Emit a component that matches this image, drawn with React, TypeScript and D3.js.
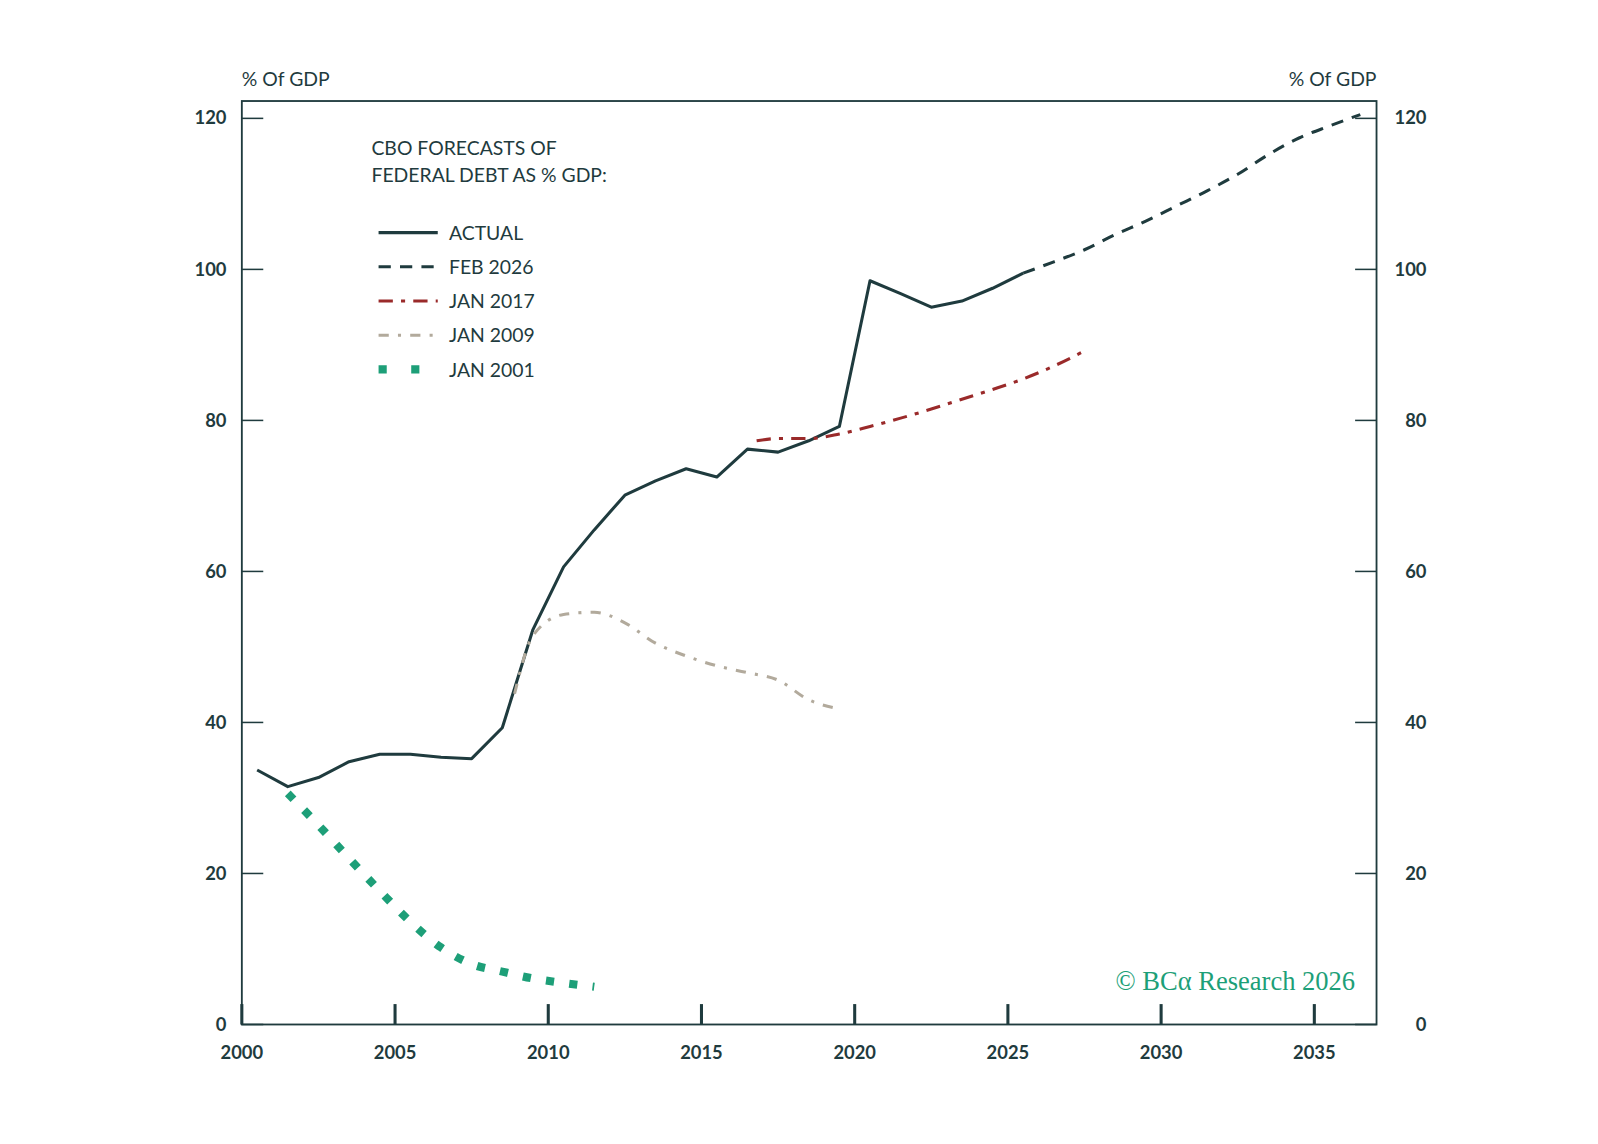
import React from 'react';
import * as d3 from 'd3';

type P = [number, number];

const actual: P[] = [
  [2000.5, 33.7], [2001.5, 31.5], [2002.5, 32.7], [2003.5, 34.8], [2004.5, 35.8], [2005.5, 35.8],
  [2006.5, 35.4], [2007.5, 35.2], [2008.5, 39.3], [2009.5, 52.3], [2010.5, 60.6], [2011.5, 65.5],
  [2012.5, 70.1], [2013.5, 72], [2014.5, 73.6], [2015.5, 72.5], [2016.5, 76.2], [2017.5, 75.8],
  [2018.5, 77.3], [2019.5, 79.2], [2020.5, 98.5], [2021.5, 96.8], [2022.5, 95.0], [2023.5, 95.8],
  [2024.5, 97.5], [2025.5, 99.5],
];
const feb2026: P[] = [
  [2025.5, 99.5], [2026.5, 101], [2027.5, 102.6], [2028.5, 104.6], [2029.5, 106.4], [2030.5, 108.4],
  [2031.5, 110.4], [2032.5, 112.6], [2033.5, 115.2], [2034.5, 117.4], [2035.5, 119], [2036.5, 120.5],
];
const jan2017: P[] = [
  [2016.8, 77.3], [2017.5, 77.6], [2018.5, 77.6], [2019.5, 78.2], [2020.5, 79.2], [2021.5, 80.3],
  [2022.5, 81.5], [2023.5, 82.8], [2024.5, 84.1], [2025.5, 85.5], [2026.5, 87.2], [2027.5, 89.2],
];
const jan2009: P[] = [
  [2008.9, 43.8], [2009.5, 51.5], [2010.5, 54.3], [2011.5, 54.6], [2012.5, 53.2], [2013.5, 50.5],
  [2014.5, 48.8], [2015.5, 47.5], [2016.5, 46.6], [2017.5, 45.6], [2018.5, 43], [2019.5, 41.8],
];
const jan2001: P[] = [
  [2001.5, 30.6], [2002.5, 26.4], [2003.5, 22], [2004.5, 17.7], [2005.5, 13.6], [2006.5, 10.2],
  [2007.5, 8], [2008.5, 7], [2009.5, 6.1], [2010.5, 5.5], [2011.5, 5.0],
];
const yTicks = [0, 20, 40, 60, 80, 100, 120];
const xTicks = [2000, 2005, 2010, 2015, 2020, 2025, 2030, 2035];

const DARK = '#1f3b3e';
const RED = '#9a2a2a';
const BEIGE = '#b2aa9c';
const GREEN = '#1d9f78';

const series = [
  { name: 'ACTUAL', data: actual, color: DARK, width: 3, dash: '', linear: true },
  { name: 'FEB 2026', data: feb2026, color: DARK, width: 3, dash: '12 9', linear: false },
  { name: 'JAN 2017', data: jan2017, color: RED, width: 3, dash: '14 8 4 8', linear: false },
  { name: 'JAN 2009', data: jan2009, color: BEIGE, width: 3, dash: '10 9 3 9', linear: false },
  { name: 'JAN 2001', data: jan2001, color: GREEN, width: 8, dash: '8 15', linear: false },
];

export default function App() {
  const L = 237, R = 1349, T = 99, B = 1004;
  const x = d3.scaleLinear().domain([2000, 2037.03]).range([L, R]);
  const y = d3.scaleLinear().domain([0, 120]).range([B, 116]);
  const smooth = d3.line<P>().x(d => x(d[0])).y(d => y(d[1])).curve(d3.curveMonotoneX);
  const straight = d3.line<P>().x(d => x(d[0])).y(d => y(d[1]));
  const font = 'Lato, "Open Sans", sans-serif';
  const k = 1 / 0.98;
  return (
    <svg width={1598} height={1144}
      style={{ display: 'block', fontFamily: font, position: 'absolute', left: 0, top: 0 }}>
      <rect width={1598} height={1144} fill="#fff" />
      <g transform={`scale(${k})`}>
        <text x={L} y={84} fontSize={19} fill={DARK}>% Of GDP</text>
        <text x={R} y={84} fontSize={19} fill={DARK} textAnchor="end">% Of GDP</text>
        <rect x={L} y={T} width={R - L} height={B - T} fill="none" stroke={DARK} strokeWidth={1.8} />
        {yTicks.map(t => (
          <g key={t}>
            <line x1={L} x2={L + 21} y1={y(t)} y2={y(t)} stroke={DARK} strokeWidth={1.5} />
            <line x1={R - 21} x2={R} y1={y(t)} y2={y(t)} stroke={DARK} strokeWidth={1.5} />
            <text x={222} y={y(t) + 6} fontSize={18} fontWeight={700} fill={DARK} textAnchor="end">{t}</text>
            <text x={1398} y={y(t) + 6} fontSize={18} fontWeight={700} fill={DARK} textAnchor="end">{t}</text>
          </g>
        ))}
        {xTicks.map(t => (
          <g key={t}>
            <line x1={x(t)} x2={x(t)} y1={B} y2={B - 20} stroke={DARK} strokeWidth={3} />
            <text x={x(t)} y={1038} fontSize={18} fontWeight={700} fill={DARK} textAnchor="middle">{t}</text>
          </g>
        ))}
        {series.map(s => (
          <path key={s.name} d={(s.linear ? straight : smooth)(s.data) || ''} fill="none" stroke={s.color}
            strokeWidth={s.width} strokeDasharray={s.dash} strokeLinejoin="round" />
        ))}
        <text x={364} y={152} fontSize={19} fill={DARK}>CBO FORECASTS OF</text>
        <text x={364} y={178} fontSize={19} fill={DARK}>FEDERAL DEBT AS % GDP:</text>
        {series.map((s, i) => {
          const yy = 228 + i * 33.5;
          return (
            <g key={s.name}>
              <line x1={371} x2={429} y1={yy} y2={yy} stroke={s.color}
                strokeWidth={i === 4 ? 8 : 3} strokeDasharray={i === 4 ? '8 24' : s.dash} />
              <text x={440} y={yy + 7} fontSize={19} fill={DARK}>{s.name}</text>
            </g>
          );
        })}
        <text x={1328} y={970} fontSize={26} fill={GREEN} textAnchor="end" fontFamily="'Liberation Serif', serif">© BCα Research 2026</text>
      </g>
    </svg>
  );
}
